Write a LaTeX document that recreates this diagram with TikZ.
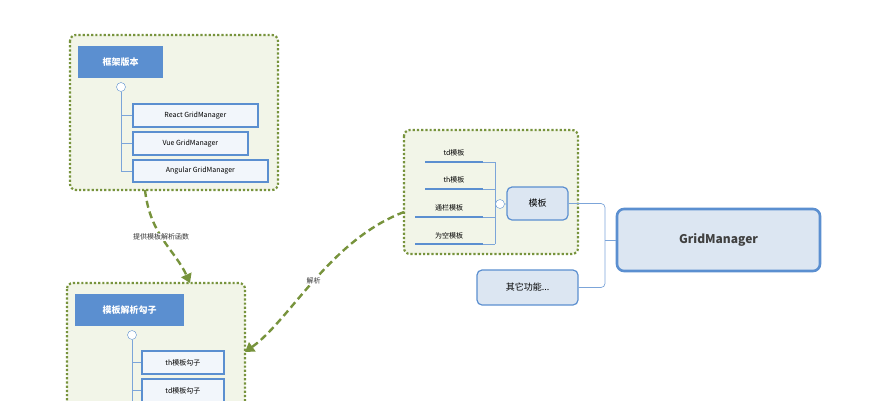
\documentclass[tikz,border=0pt]{standalone}
\usepackage{fontspec}
\setmainfont{Noto Sans CJK SC}
\usetikzlibrary{arrows.meta,positioning}
\definecolor{olive}{HTML}{77933C}
\definecolor{paleg}{HTML}{F2F5E8}
\definecolor{mblue}{HTML}{5B8FD0}
\definecolor{pblue}{HTML}{DCE6F2}
\begin{document}
\begin{tikzpicture}[x=1pt,y=-1pt]
\tikzset{group/.style = {draw=olive,fill=paleg,line width=2.2pt,dotted,rounded corners=6pt}}
\tikzset{title/.style = {fill=mblue,text=white,font=\bfseries\small,anchor=north west,inner sep=0pt}}
\tikzset{leaf/.style = {draw=mblue,fill=white!92!mblue,line width=1.8pt,font=\scriptsize,anchor=north west,inner sep=0pt}}
\tikzset{topic/.style = {draw=mblue,fill=pblue,line width=1.2pt,rounded corners=5pt,inner sep=0pt}}
\tikzset{link/.style = {draw=mblue!80,line width=0.7pt}}
\tikzset{fold/.style = {circle,draw=mblue,fill=white,inner sep=0pt,minimum size=9pt}}
\tikzset{edge/.style = {-{Triangle[length=9pt,width=11pt]},draw=olive,line width=2.4pt,dash pattern=on 7pt off 4pt}}
\useasboundingbox (0,0) rectangle (875,400);

%groups
\draw[group] (70,35) rectangle (278,190);
\draw[group] (67,283) rectangle (245,410);
\draw[group] (404,130) rectangle (578,254);

%frames
\node[title,minimum width=85pt,minimum height=32pt] (frame) at (78,46) {框架版本};
\node[fold] (f1) at (121,87) {};
\node[leaf,minimum width=125pt,minimum height=23pt] (react) at (132,103) {React GridManager};
\node[leaf,minimum width=115pt,minimum height=23pt] (vue) at (132,131) {Vue GridManager};
\node[leaf,minimum width=135pt,minimum height=22pt] (angular) at (132,159) {Angular GridManager};
\draw[link] (f1) |- (react.west) (f1) |- (vue.west) (f1) |- (angular.west);

%hooks
\node[title,minimum width=109pt,minimum height=32pt] (hook) at (75,294) {模板解析勾子};
\node[fold] (f2) at (132,335) {};
\node[leaf,minimum width=82pt,minimum height=23pt] (thhook) at (141,350) {th模板勾子};
\node[leaf,minimum width=82pt,minimum height=23pt] (tdhook) at (141,378) {td模板勾子};
\draw[link] (f2) |- (thhook.west) (f2) |- (tdhook.west) (f2) -- ++(0,80);

%templates
\node[topic,minimum width=61pt,minimum height=33pt,font=\small] (tpl) at (537.5,203.5) {模板};
\node[fold] (f3) at (500,204) {};
\foreach \name/\txt/\y/\xl in {td/td模板/162/425, th/th模板/189/425, tong/通栏模板/217/415, kong/为空模板/244/415}{
  \coordinate (\name) at (495,\y);
  \draw[mblue,line width=2.2pt] (\xl,\y) -- (483,\y) node[midway,above=1pt,font=\scriptsize,text=black] {\txt};
  \draw[link] (483,\y) -- (\name);
}
\draw[link] (td) -- (kong);
\draw[link] (f3) -- (tpl);

%root
\node[topic,line width=2.6pt,minimum width=203pt,minimum height=62pt,font=\bfseries\large,text=black!75,rounded corners=7pt] (gm) at (718.5,240) {GridManager};
\node[topic,minimum width=101pt,minimum height=35pt,font=\small] (other) at (527.5,287.5) {其它功能...};
\draw[link,rounded corners=4pt] (tpl.east) -- (605,203.5) -- (605,287.5) -- (other.east);
\draw[link] (605,240) -- (gm.west);

%edges
\draw[edge] (145,190) .. controls (150,235) and (175,250) .. (190,283) node[pos=0.45,fill=white,font=\scriptsize,text=black!80,inner sep=1pt] {提供模板解析函数};
\draw[edge] (404,212) .. controls (330,240) and (290,320) .. (245,352) node[pos=0.5,fill=white,font=\scriptsize,text=black!80,inner sep=1pt] {解析};
\end{tikzpicture}
\end{document}
